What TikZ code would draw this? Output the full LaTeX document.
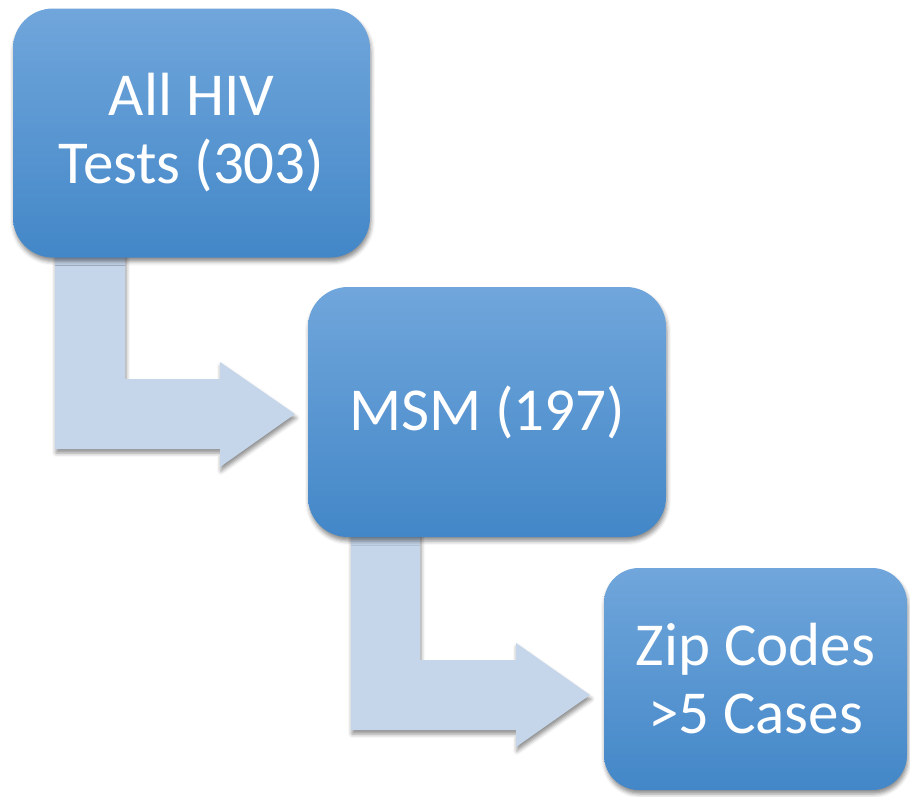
\documentclass[tikz,border=0pt]{standalone}
\usepackage{fontspec}
\setmainfont{Carlito}
\usetikzlibrary{shadows.blur}
\definecolor{boxtop}{HTML}{70A6DB}
\definecolor{boxbot}{HTML}{4387C8}
\definecolor{arrowfill}{HTML}{C5D5EA}
\tikzset{
  softshadow/.style={blur shadow={shadow xshift=1pt, shadow yshift=-4pt, shadow blur radius=4pt, shadow opacity=45}},
  stepbox/.style={rounded corners=40pt, top color=boxtop, bottom color=boxbot, text=white, align=center,
    font=\fontsize{61}{68}\selectfont, inner sep=0pt, outer sep=0pt, softshadow},
  bentarrow/.style={fill=arrowfill, softshadow}
}
\begin{document}
\begin{tikzpicture}[x=1pt,y=-1pt]
\useasboundingbox (0,0) rectangle (910,796);
% bent arrows (drawn first, lie under the boxes)
\path[bentarrow] (55,245) -- (125,245) -- (125,379) -- (220,379) -- (220,362) -- (295,414) -- (220,467) -- (220,449) -- (55,449) -- cycle;
\path[bentarrow] (351,526) -- (420,526) -- (420,660) -- (516,660) -- (516,643) -- (590,695) -- (516,747) -- (516,730) -- (351,730) -- cycle;
% boxes
\node[stepbox, minimum width=357pt, minimum height=249pt] (b1) at (191.5,133) {All HIV\\Tests (303)};
\node[stepbox, minimum width=358pt, minimum height=250pt] (b2) at (487,412) {MSM (197)};
\node[stepbox, rounded corners=35pt, minimum width=303pt, minimum height=222pt] (b3) at (755.5,679) {Zip Codes\\>5 Cases};
\end{tikzpicture}
\end{document}
